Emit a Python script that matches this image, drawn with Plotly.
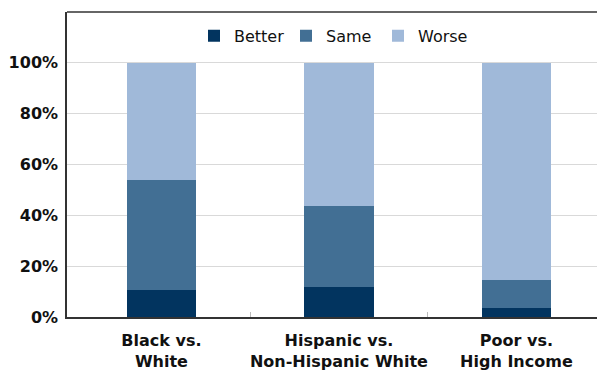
import plotly.graph_objects as go

# Share of measures for each comparison group
groups = ["Black vs.<br>White", "Hispanic vs.<br>Non-Hispanic White", "Poor vs.<br>High Income"]
better = [10.6, 11.8, 3.5]
same = [43.3, 31.8, 11.0]
worse = [46.1, 56.4, 85.5]

series = [
    ("Better", better, "#02345f"),
    ("Same", same, "#426f94"),
    ("Worse", worse, "#a0b9d9"),
]

x_pos = list(range(len(groups)))

fig = go.Figure()
for name, vals, color in series:
    fig.add_trace(go.Bar(
        x=x_pos, y=vals, name=name, width=0.39,
        marker=dict(color=color, line=dict(width=0)),
    ))

fig.update_layout(
    width=597, height=370,
    margin=dict(l=67, r=0, t=12, b=53, autoexpand=False),
    barmode="stack",
    paper_bgcolor="white", plot_bgcolor="white",
    font=dict(family="DejaVu Sans", color="#111111"),
    showlegend=True,
    legend=dict(
        orientation="h", x=0.50, xanchor="center", y=0.922, yanchor="middle",
        traceorder="normal", font=dict(size=16, family="DejaVu Sans", color="#111111"),
        bgcolor="rgba(0,0,0,0)", entrywidth=47, entrywidthmode="pixels",
    ),
    xaxis=dict(
        range=[-0.532, 2.454], automargin=False,
        tickmode="array", tickvals=x_pos, ticktext=groups,
        ticks="", showgrid=False, zeroline=False,
        showline=True, linecolor="#333333", linewidth=1.5,
        tickfont=dict(size=16, family="DejaVu Sans", weight="bold", color="#111111"),
        ticklabelstandoff=8,
        minor=dict(tickmode="array", tickvals=[0.5, 1.5], ticks="inside",
                   ticklen=5, tickcolor="#bbbbbb", tickwidth=1, showgrid=False),
    ),
    yaxis=dict(
        range=[0, 120], automargin=False,
        tickmode="array", tickvals=[0, 20, 40, 60, 80, 100],
        ticktext=["0%", "20%", "40%", "60%", "80%", "100%"],
        showgrid=True, gridcolor="#d9d9d9", gridwidth=1.2,
        zeroline=False, ticks="",
        showline=True, linecolor="#333333", linewidth=1.5,
        tickfont=dict(size=16, family="DejaVu Sans", weight="bold", color="#111111"),
        ticklabelstandoff=4,
    ),
    shapes=[dict(type="line", xref="paper", yref="paper", x0=0, x1=1, y0=1, y1=1,
                 line=dict(color="#333333", width=1.5), layer="above")],
)

fig.write_html("out.html")
